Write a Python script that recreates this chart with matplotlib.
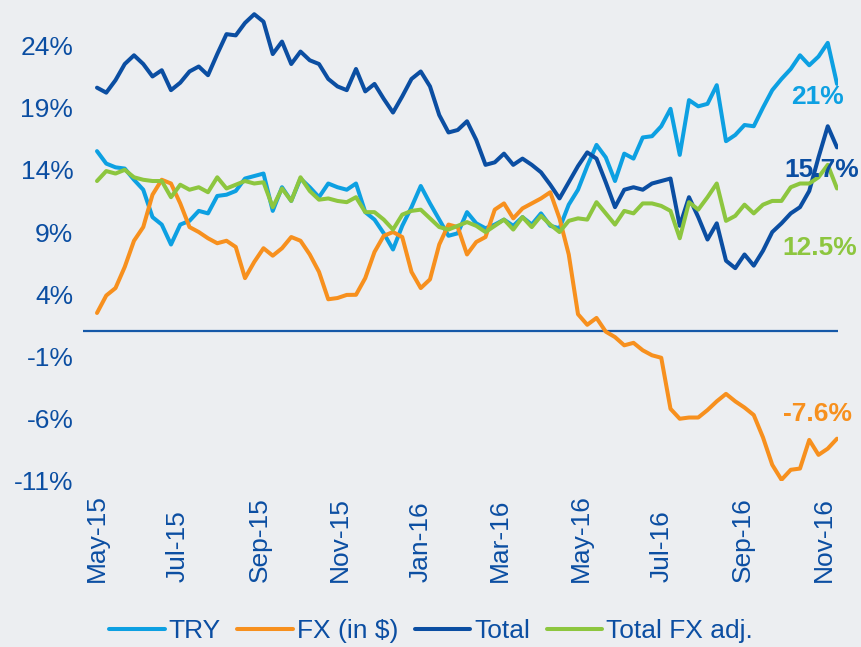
import matplotlib
matplotlib.use("Agg")
import matplotlib.pyplot as plt
import matplotlib.dates as mdates
from matplotlib.ticker import FuncFormatter
import pandas as pd
import numpy as np

# ---------------- data ----------------
start_date = "2015-05-01"
series_names = ["TRY", "FX (in $)", "Total", "Total FX adj."]

try_vals = [15.5, 14.5, 14.2, 14.1, 13.2, 12.4, 10.2, 9.6, 8.0, 9.6,
            9.9, 10.7, 10.5, 11.9, 12.0, 12.3, 13.3, 13.5, 13.7, 10.7,
            12.6, 11.5, 13.3, 12.6, 11.8, 12.9, 12.6, 12.4, 12.9, 10.6,
            10.0, 8.9, 7.6, 9.5, 11.0, 12.7, 11.3, 10.0, 8.7, 8.9,
            10.6, 9.7, 9.3, 9.6, 10.0, 9.5, 10.2, 9.6, 10.5, 9.5,
            9.3, 11.2, 12.4, 14.3, 16.0, 15.0, 13.1, 15.3, 14.9, 16.6,
            16.7, 17.5, 18.9, 15.2, 19.6, 19.1, 19.3, 20.8, 16.3, 16.8,
            17.6, 17.5, 19.0, 20.4, 21.3, 22.1, 23.2, 22.4, 23.1, 24.2,
            20.9]

fx_vals = [2.5, 3.9, 4.5, 6.2, 8.3, 9.4, 12.0, 13.2, 12.9, 11.3,
           9.4, 9.0, 8.5, 8.1, 8.3, 7.8, 5.3, 6.6, 7.7, 7.1,
           7.7, 8.6, 8.3, 7.2, 5.8, 3.6, 3.7, 3.95, 3.96, 5.3,
           7.4, 8.7, 9.0, 8.6, 5.8, 4.5, 5.2, 8.0, 9.6, 9.4,
           7.2, 8.2, 8.6, 10.8, 11.3, 10.1, 10.9, 11.3, 11.7, 12.2,
           10.1, 7.2, 2.4, 1.55, 2.1, 1.0, 0.56, -0.1, 0.1, -0.5,
           -0.9, -1.1, -5.2, -6.0, -5.9, -5.9, -5.3, -4.6, -4.0, -4.6,
           -5.1, -5.7, -7.5, -9.7, -10.9, -10.1, -10.0, -7.7, -8.9, -8.4,
           -7.6]

total_vals = [20.6, 20.2, 21.2, 22.5, 23.2, 22.5, 21.5, 22.0, 20.4, 21.0,
              21.9, 22.3, 21.6, 23.3, 24.9, 24.8, 25.8, 26.5, 25.9, 23.3,
              24.3, 22.5, 23.5, 22.8, 22.5, 21.3, 20.7, 20.4, 22.1, 20.3,
              20.9, 19.7, 18.6, 19.9, 21.3, 21.9, 20.7, 18.4, 17.0, 17.2,
              17.9, 16.4, 14.4, 14.6, 15.3, 14.4, 14.9, 14.4, 13.8, 12.8,
              11.7, 13.0, 14.3, 15.4, 14.9, 13.0, 11.0, 12.4, 12.6, 12.4,
              12.9, 13.1, 13.3, 9.5, 11.8, 10.2, 8.4, 9.7, 6.7, 6.1,
              7.2, 6.3, 7.5, 9.0, 9.7, 10.5, 11.0, 12.3, 15.0, 17.5,
              15.8]

fxadj_vals = [13.1, 13.9, 13.7, 14.0, 13.4, 13.2, 13.1, 13.1, 11.8, 12.8,
              12.4, 12.6, 12.2, 13.4, 12.5, 12.8, 13.1, 12.9, 13.0, 11.0,
              12.5, 11.5, 13.4, 12.3, 11.6, 11.7, 11.5, 11.4, 11.8, 10.6,
              10.6, 10.0, 9.2, 10.4, 10.7, 10.8, 10.1, 9.4, 9.2, 9.5,
              9.8, 9.5, 9.0, 9.5, 10.0, 9.2, 10.2, 9.4, 10.3, 9.6,
              9.0, 9.9, 10.1, 10.0, 11.4, 10.5, 9.6, 10.7, 10.5, 11.3,
              11.3, 11.1, 10.7, 8.5, 11.4, 10.8, 11.8, 12.9, 9.9, 10.3,
              11.2, 10.5, 11.2, 11.5, 11.5, 12.6, 12.9, 12.9, 13.4, 14.4,
              12.5]

end_labels = ["21%", "-7.6%", "15.7%", "12.5%"]

tick_months = ["2015-05-01", "2015-07-01", "2015-09-01", "2015-11-01", "2016-01-01",
               "2016-03-01", "2016-05-01", "2016-07-01", "2016-09-01", "2016-11-01"]
tick_labels = ["May-15", "Jul-15", "Sep-15", "Nov-15", "Jan-16",
               "Mar-16", "May-16", "Jul-16", "Sep-16", "Nov-16"]
y_ticks = [-11, -6, -1, 4, 9, 14, 19, 24]
ref_line = 1.07

# ---------------- style ----------------
W, H = 861, 647
BG = "#ECEEF1"
TXT = "#0B4EA2"
colors = ["#0DA0E2", "#F7901E", "#0B4EA2", "#8DC63F"]
plt.rcParams["font.family"] = ["Liberation Sans", "DejaVu Sans"]

dates = pd.date_range(start_date, periods=len(try_vals), freq="7D")

fig = plt.figure(figsize=(W / 100, H / 100), dpi=100, facecolor=BG)
ax_left, ax_right, ax_top, ax_bot = 83, 838, 8, 481
ax = fig.add_axes([ax_left / W, 1 - ax_bot / H, (ax_right - ax_left) / W, (ax_bot - ax_top) / H])
ax.set_facecolor(BG)

for vals, c, name in zip([try_vals, fx_vals, total_vals, fxadj_vals], colors, series_names):
    ax.plot(dates, vals, color=c, lw=2.9, label=name, solid_joinstyle="round",
            solid_capstyle="round", zorder=3)

ax.axhline(ref_line, color="#1558A8", lw=1.6, zorder=2)

# x limits: pixel 83 -> 14px before first point; 9.25 px / week
px_per_day = 9.25 / 7.0
x0 = mdates.date2num(dates[0]) - (97 - ax_left) / px_per_day
x1 = mdates.date2num(dates[-1]) + (ax_right - 837) / px_per_day
ax.set_xlim(x0, x1)
ax.set_ylim(-11, 27.0)

ax.set_yticks(y_ticks)
ax.yaxis.set_major_formatter(FuncFormatter(lambda v, p: f"{int(round(v))}%"))
ax.set_xticks(mdates.date2num(pd.to_datetime(tick_months)))
ax.set_xticklabels(tick_labels)

ax.tick_params(axis="y", length=0, pad=7, labelsize=19, labelcolor=TXT)
ax.tick_params(axis="x", length=0, pad=73, labelsize=19, labelcolor=TXT)
for lab in ax.get_xticklabels():
    lab.set_rotation(90)
    lab.set_rotation_mode("anchor")
    lab.set_ha("left")
    lab.set_va("center")

for s in ax.spines.values():
    s.set_visible(False)

# end-value labels
label_pos = [(817, 97), (817, 414), (822, 170), (820, 248)]
for (px, py), txt, c in zip(label_pos, end_labels, colors):
    fig.text(px / W, 1 - py / H, txt, color=c, fontsize=19, fontweight="bold",
             ha="center", va="center", zorder=5)

leg = fig.legend(loc="center", bbox_to_anchor=(431 / W, 1 - 631 / H), ncol=4,
                 frameon=False, fontsize=19, handlelength=2.1, handletextpad=0.15,
                 columnspacing=0.63)
for t in leg.get_texts():
    t.set_color(TXT)

fig.savefig("out.png", dpi=100, facecolor=BG)
